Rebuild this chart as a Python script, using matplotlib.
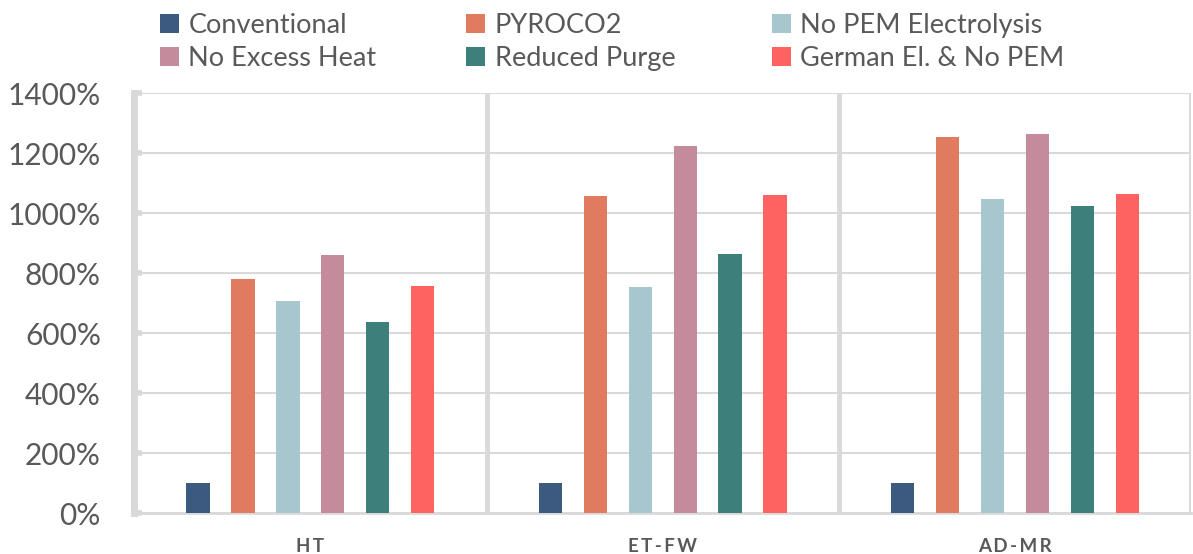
import numpy as np
import matplotlib
matplotlib.use("Agg")
import matplotlib.pyplot as plt

plt.rcParams['font.family'] = ['Lato', 'DejaVu Sans']

groups = ['HT', 'ET-FW', 'AD-MR']
scenarios = ['Conventional', 'PYROCO2', 'No PEM Electrolysis',
             'No Excess Heat', 'Reduced Purge', 'German El. & No PEM']
colors = ['#3C5A80', '#E07B5F', '#A8C6CD', '#C48B9C', '#3D7F7B', '#FF6361']

conventional = [100, 100, 100]
pyroco2 = [780, 1058, 1253]
no_pem = [708, 753, 1048]
no_excess_heat = [860, 1222, 1265]
reduced_purge = [636, 862, 1022]
german_no_pem = [757, 1060, 1062]
values = [conventional, pyroco2, no_pem, no_excess_heat, reduced_purge, german_no_pem]

yticks = [0, 200, 400, 600, 800, 1000, 1200, 1400]

fig = plt.figure(figsize=(11.93, 5.54), dpi=100)
ax = fig.add_axes([0.1125, 0.074, 0.886, 0.758])

x = np.arange(len(groups))
slot = 0.1275
width = 0.066
handles = []
for i, (name, vals) in enumerate(zip(scenarios, values)):
    b = ax.bar(x + (i - 2.5) * slot, vals, width, color=colors[i], label=name, zorder=3)
    handles.append(b)

grey = '#D9D9D9'
ax.set_xlim(-0.5, 2.5)
ax.set_ylim(0, 1400)
ax.set_yticks(yticks)
ax.set_yticklabels([f'{v}%' for v in yticks], fontsize=21.5, color='#595959')
ax.yaxis.grid(True, color=grey, linewidth=1.5, zorder=0)
ax.set_xticks(x)
# letter-spaced category labels
ax.set_xticklabels(['\u2009'.join(g) for g in groups], fontsize=13.5,
                   fontweight='bold', color='#595959',
                   family=['Lato', 'DejaVu Sans'])
ax.tick_params(axis='x', length=0, pad=18)
ax.tick_params(axis='y', direction='in', length=6, width=4, color=grey, pad=24)

for s in ['top', 'right']:
    ax.spines[s].set_visible(False)
ax.spines['left'].set_color(grey)
ax.spines['left'].set_linewidth(5)
ax.spines['bottom'].set_color(grey)
ax.spines['bottom'].set_linewidth(2)
for sep in [0.5, 1.5, 2.5]:
    ax.axvline(sep, color=grey, linewidth=3.5, zorder=2)

# one legend per column, rows: (0,3), (1,4), (2,5)
for col, xpos in zip(range(3), [0.134, 0.391, 0.647]):
    idx = [col, col + 3]
    leg = fig.legend([handles[i] for i in idx], [scenarios[i] for i in idx],
                     loc='upper left', bbox_to_anchor=(xpos, 0.976),
                     frameon=False, fontsize=19.5, handlelength=0.7,
                     handleheight=0.7, handletextpad=0.35, labelspacing=0.3,
                     borderpad=0, borderaxespad=0, labelcolor='#595959')

fig.savefig('out.png', dpi=100)
